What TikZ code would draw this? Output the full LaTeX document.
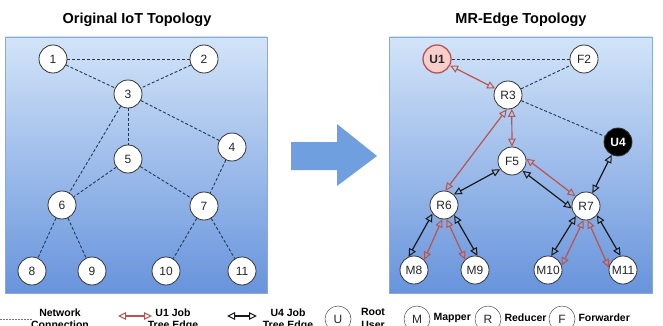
\documentclass[tikz,border=0pt]{standalone}
\usepackage{fontspec}
\setmainfont{Liberation Sans}
\usetikzlibrary{arrows.meta}
\definecolor{jobred}{HTML}{B85450}
\definecolor{userfill}{HTML}{F8CECC}
\definecolor{netblue}{HTML}{22385A}
\definecolor{paneltop}{HTML}{D2E4F8}
\definecolor{panelbot}{HTML}{6894DC}
\definecolor{panelline}{HTML}{8AAAD0}
\definecolor{bigarrow}{HTML}{6F9FDF}
\tikzset{
	opentip/.tip={Triangle[open,length=8pt,width=7.5pt,line width=1pt]},
}
\begin{document}
\begin{tikzpicture}[x=1pt,y=-1pt,
	dev/.style={circle,draw=black!80,fill=white,line width=0.8pt,minimum size=28pt,inner sep=0pt,font=\fontsize{12}{12}\selectfont,text=black!85},
	rootuser/.style={dev,draw=jobred,fill=userfill,line width=1.3pt,font=\fontsize{12}{12}\selectfont\bfseries},
	jobuser/.style={dev,fill=black,text=white,font=\fontsize{12}{12}\selectfont\bfseries},
	keydev/.style={dev,draw=black!70,line width=0.5pt,minimum size=26pt,font=\fontsize{12}{12}\selectfont},
	net/.style={draw=netblue,dash pattern=on 3pt off 2pt,line width=0.9pt},
	u1job/.style={draw=jobred,line width=1.2pt,opentip-opentip},
	u4job/.style={draw=black!90,line width=1.2pt,opentip-opentip},
	title/.style={font=\fontsize{14.5}{15}\selectfont\bfseries},
	keytext/.style={font=\fontsize{10.5}{12.5}\selectfont\bfseries,align=center}]
	\useasboundingbox (0,0) rectangle (663,326);
	\shade[top color=paneltop,bottom color=panelbot,draw=panelline] (5,37) rectangle (267,293);
	\shade[top color=paneltop,bottom color=panelbot,draw=panelline] (389,37) rectangle (652,293);
	\node[title] (lefttitle) at (137,20) {Original IoT Topology};
	\node[title] (righttitle) at (521,20) {MR-Edge Topology};
	\fill[bigarrow] (291,142) -- (337,142) -- (337,124) -- (377,156) -- (337,186) -- (337,170) -- (291,170) -- cycle;

	\node[dev] (n1) at (53,59) {1};
	\node[dev] (n2) at (204,59) {2};
	\node[dev] (n3) at (128,94) {3};
	\node[dev] (n4) at (232,147) {4};
	\node[dev] (n5) at (128,159) {5};
	\node[dev] (n6) at (62,205) {6};
	\node[dev] (n7) at (204,206) {7};
	\node[dev] (n8) at (32,271) {8};
	\node[dev] (n9) at (92,271) {9};
	\node[dev] (n10) at (166,271) {10};
	\node[dev] (n11) at (242,271) {11};
	\foreach \a/\b in {n1/n2,n1/n3,n2/n3,n3/n4,n3/n5,n3/n6,n4/n7,n5/n6,n5/n7,n6/n8,n6/n9,n7/n10,n7/n11}
		\draw[net] (\a) -- (\b);

	\node[rootuser] (U1) at (437,59) {U1};
	\node[dev] (F2) at (584,59) {F2};
	\node[dev] (R3) at (508,95) {R3};
	\node[jobuser] (U4) at (618,142) {U4};
	\node[dev] (F5) at (512,161) {F5};
	\node[dev] (R6) at (444,205) {R6};
	\node[dev] (R7) at (586,206) {R7};
	\node[dev] (M8) at (414,270) {M8};
	\node[dev] (M9) at (475,270) {M9};
	\node[dev] (M10) at (548,270) {M10};
	\node[dev] (M11) at (623,270) {M11};
	\draw[net] (U1) -- (F2);
	\draw[net] (R3) -- (F2);
	\draw[net] (R3) -- (U4);

	\draw[u1job] (U1) -- (R3);
	\draw[u1job] (R3.-75) -- (F5.90);
	\draw[u1job] (R3.-95) -- (R6.85);
	\draw[u1job] (F5.10) -- (R7.137);
	\draw[u1job] (R6.263) -- (M8.45);
	\draw[u1job] (R6.280) -- (M9.133);
	\draw[u1job] (R7.260) -- (M10.18);
	\draw[u1job] (R7.277) -- (M11.170);

	\draw[u4job] (U4) -- (R7);
	\draw[u4job] (F5.215) -- (R6.47);
	\draw[u4job] (F5.317) -- (R7.190);
	\draw[u4job] (R6.217) -- (M8.112);
	\draw[u4job] (R6.315) -- (M9.80);
	\draw[u4job] (R7.225) -- (M10.77);
	\draw[u4job] (R7.320) -- (M11.100);

	\coordinate (netkeyA) at (0,319);
	\coordinate (netkeyB) at (33,319);
	\draw[draw=black!55,dash pattern=on 1.5pt off 1.5pt,line width=0.7pt] (netkeyA) -- (netkeyB);
	\node[keytext,anchor=north] (netkey) at (60,305) {Network\\Connection};
	\coordinate (u1keyA) at (118,316);
	\coordinate (u1keyB) at (152,316);
	\draw[u1job] (u1keyA) -- (u1keyB);
	\node[keytext,anchor=north] (u1key) at (173,305) {U1 Job\\Tree Edge};
	\coordinate (u4keyA) at (227,316);
	\coordinate (u4keyB) at (257,316);
	\draw[u4job] (u4keyA) -- (u4keyB);
	\node[keytext,anchor=north] (u4key) at (288,305) {U4 Job\\Tree Edge};
	\node[keydev] (ukey) at (338,319) {U};
	\node[keytext,anchor=north] (ukeytext) at (373,305) {Root\\User};
	\node[keydev] (mkey) at (417,319) {M};
	\node[keytext,anchor=west] (mkeytext) at (430,318) {Mapper};
	\node[keydev] (rkey) at (488,319) {R};
	\node[keytext,anchor=west] (rkeytext) at (501,318) {Reducer};
	\node[keydev] (fkey) at (562,319) {F};
	\node[keytext,anchor=west] (fkeytext) at (575,318) {Forwarder};
\end{tikzpicture}
\end{document}
